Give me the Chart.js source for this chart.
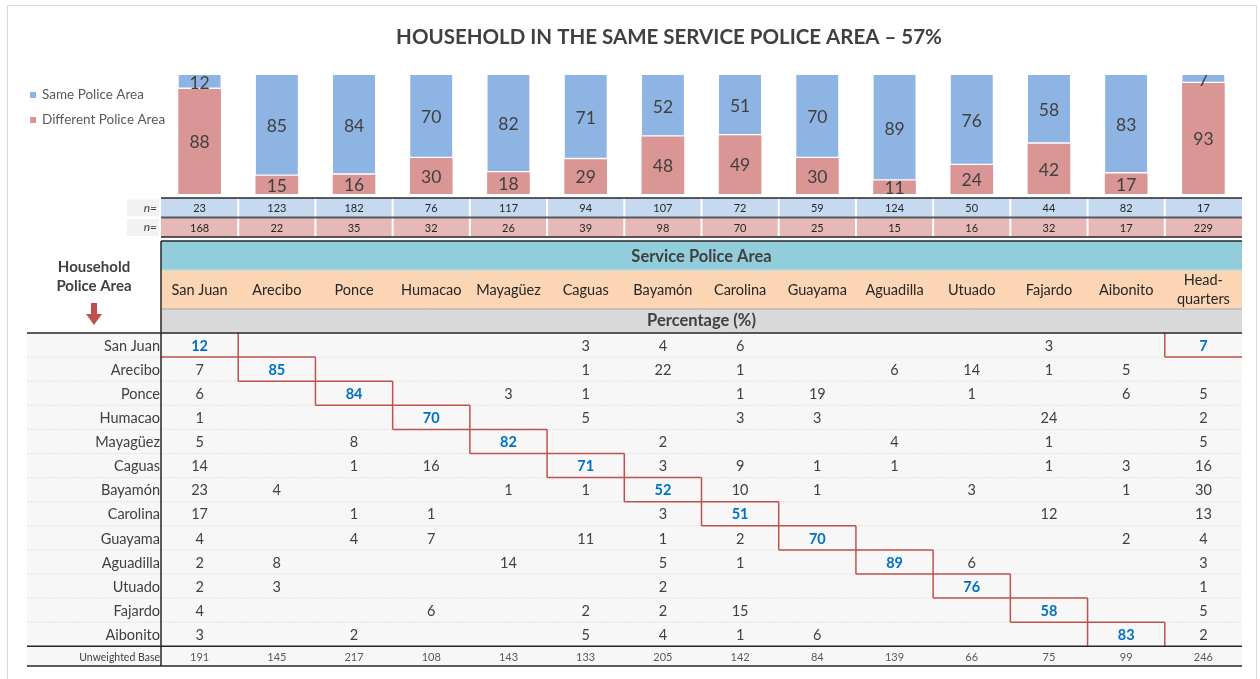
<!DOCTYPE html>
<html><head><meta charset="utf-8">
<script src="https://cdn.jsdelivr.net/npm/chart.js@4.4.0/dist/chart.umd.min.js"></script>
<style>html,body{margin:0;padding:0;background:#fff;}#wrap{position:relative;width:1260px;height:679px;}</style>
</head><body><div id="wrap"><canvas id="c"></canvas></div>
<script>
// ---------- DATA ----------
const categories = ['San Juan','Arecibo','Ponce','Humacao','Mayagüez','Caguas','Bayamón','Carolina','Guayama','Aguadilla','Utuado','Fajardo','Aibonito','Headquarters'];
const headerLabels = ['San Juan','Arecibo','Ponce','Humacao','Mayagüez','Caguas','Bayamón','Carolina','Guayama','Aguadilla','Utuado','Fajardo','Aibonito','Head-|quarters'];
const samePct = [12,85,84,70,82,71,52,51,70,89,76,58,83,7];
const diffPct = [88,15,16,30,18,29,48,49,30,11,24,42,17,93];
const nSame = [23,123,182,76,117,94,107,72,59,124,50,44,82,17];
const nDiff = [168,22,35,32,26,39,98,70,25,15,16,32,17,229];
const rowLabels = ['San Juan','Arecibo','Ponce','Humacao','Mayagüez','Caguas','Bayamón','Carolina','Guayama','Aguadilla','Utuado','Fajardo','Aibonito'];
const _ = null;
const rowSanJuan   = [12,_,_,_,_,3,4,6,_,_,_,3,_,7];
const rowArecibo   = [7,85,_,_,_,1,22,1,_,6,14,1,5,_];
const rowPonce     = [6,_,84,_,3,1,_,1,19,_,1,_,6,5];
const rowHumacao   = [1,_,_,70,_,5,_,3,3,_,_,24,_,2];
const rowMayaguez  = [5,_,8,_,82,_,2,_,_,4,_,1,_,5];
const rowCaguas    = [14,_,1,16,_,71,3,9,1,1,_,1,3,16];
const rowBayamon   = [23,4,_,_,1,1,52,10,1,_,3,_,1,30];
const rowCarolina  = [17,_,1,1,_,_,3,51,_,_,_,12,_,13];
const rowGuayama   = [4,_,4,7,_,11,1,2,70,_,_,_,2,4];
const rowAguadilla = [2,8,_,_,14,_,5,1,_,89,6,_,_,3];
const rowUtuado    = [2,3,_,_,_,_,2,_,_,_,76,_,_,1];
const rowFajardo   = [4,_,_,6,_,2,2,15,_,_,_,58,_,5];
const rowAibonito  = [3,_,2,_,_,5,4,1,6,_,_,_,83,2];
const unweightedBase = [191,145,217,108,143,133,205,142,84,139,66,75,99,246];
const matrix = [rowSanJuan,rowArecibo,rowPonce,rowHumacao,rowMayaguez,rowCaguas,rowBayamon,rowCarolina,rowGuayama,rowAguadilla,rowUtuado,rowFajardo,rowAibonito];

const FONT = 'Lato, "Open Sans", sans-serif';
const C_BLUE = '#8EB4E3', C_PINK = '#D99694';

// ---------- LAYOUT (vertical bands) ----------
const L = {nTop:198, nMid:217.5, nBot:237, tealTop:241, orangeTop:270, grayTop:309, rowsTop:333, rowH:24.1, baseBot:666, tableLeft:27};

function txt(ctx, s, x, y, font, color, align){
  ctx.font = font; ctx.fillStyle = color; ctx.textAlign = align||'center'; ctx.textBaseline = 'middle';
  ctx.fillText(s, x, y);
}
function hline(ctx, x1, x2, y, color, w){ctx.beginPath();ctx.strokeStyle=color;ctx.lineWidth=w;ctx.moveTo(x1,y);ctx.lineTo(x2,y);ctx.stroke();}
function vline(ctx, x, y1, y2, color, w){ctx.beginPath();ctx.strokeStyle=color;ctx.lineWidth=w;ctx.moveTo(x,y1);ctx.lineTo(x,y2);ctx.stroke();}

const decorPlugin = {
  id:'decor',
  beforeDraw(chart){
    const ctx = chart.ctx;
    ctx.save();
    ctx.strokeStyle = '#D9D9D9'; ctx.lineWidth = 1;
    ctx.strokeRect(7.5, 5.5, 1249, 700);
    // title
    txt(ctx, 'HOUSEHOLD IN THE SAME SERVICE POLICE AREA \u2013 57%', 669, 37, 'bold 20.5px '+FONT, '#404040');
    // legend
    const items = [[chart.data.datasets[1].label, C_BLUE, 95],[chart.data.datasets[0].label, C_PINK, 120]];
    items.forEach(([lab,col,y])=>{
      ctx.fillStyle = col; ctx.fillRect(30, y-3, 6, 6);
      txt(ctx, lab, 42, y, '13.5px '+FONT, '#595959', 'left');
    });
    ctx.restore();
  },
  afterDatasetsDraw(chart){
    const ctx = chart.ctx, ca = chart.chartArea;
    ctx.save();
    ctx.beginPath(); ctx.rect(ca.left, ca.top, ca.right-ca.left, ca.bottom-ca.top); ctx.clip();
    chart.data.datasets.forEach((ds, di)=>{
      const meta = chart.getDatasetMeta(di);
      meta.data.forEach((el, i)=>{
        const v = ds.data[i];
        const y = (el.y + el.base)/2;
        txt(ctx, String(v), el.x, y+1, '17.5px '+FONT, '#404040');
      });
    });
    ctx.restore();
  },
  afterDraw(chart){
    const ctx = chart.ctx, ca = chart.chartArea, xs = chart.scales.x;
    const N = categories.length;
    const cx = i => xs.getPixelForValue(i);
    const edge = k => k<=0 ? ca.left : (k>=N ? ca.right : (cx(k-1)+cx(k))/2);
    const rowY = r => L.rowsTop + r*L.rowH;
    const nRows = rowLabels.length;
    const dataBot = rowY(nRows);
    ctx.save();
    // ---- n= rows ----
    ctx.fillStyle = '#F2F2F2';
    ctx.fillRect(127, L.nTop+1.5, 32, L.nMid-L.nTop-2.5);
    ctx.fillRect(127, L.nMid+1.5, 32, L.nBot-L.nMid-2.5);
    ctx.fillStyle = '#C5D9F1'; ctx.fillRect(ca.left, L.nTop, ca.right-ca.left, L.nMid-L.nTop);
    ctx.fillStyle = '#E6B8B7'; ctx.fillRect(ca.left, L.nMid, ca.right-ca.left, L.nBot-L.nMid);
    for(let k=1;k<N;k++) vline(ctx, edge(k), L.nTop, L.nBot, '#FFFFFF', 2);
    hline(ctx, ca.left, ca.right, L.nTop, '#262626', 1.5);
    hline(ctx, ca.left, ca.right, L.nMid, '#595959', 2);
    hline(ctx, ca.left, ca.right, L.nBot, '#262626', 1.5);
    txt(ctx, 'n=', 157, (L.nTop+L.nMid)/2, 'italic 12px '+FONT, '#404040', 'right');
    txt(ctx, 'n=', 157, (L.nMid+L.nBot)/2, 'italic 12px '+FONT, '#404040', 'right');
    for(let i=0;i<N;i++){
      txt(ctx, String(nSame[i]), cx(i), (L.nTop+L.nMid)/2+1, '11px '+FONT, '#262626');
      txt(ctx, String(nDiff[i]), cx(i), (L.nMid+L.nBot)/2+1, '11px '+FONT, '#262626');
    }
    // ---- header bands ----
    ctx.fillStyle = '#92CDDC'; ctx.fillRect(ca.left, L.tealTop, ca.right-ca.left, L.orangeTop-L.tealTop);
    ctx.fillStyle = '#FCD5B4'; ctx.fillRect(ca.left, L.orangeTop, ca.right-ca.left, L.grayTop-L.orangeTop);
    ctx.fillStyle = '#D9D9D9'; ctx.fillRect(ca.left, L.grayTop, ca.right-ca.left, L.rowsTop-L.grayTop);
    hline(ctx, ca.left, ca.right, L.orangeTop, '#B7DEE8', 1);
    hline(ctx, ca.left, ca.right, L.grayTop, '#A6A6A6', 1);
    hline(ctx, ca.left, ca.right, L.tealTop, '#262626', 1.5);
    const midX = (ca.left+ca.right)/2;
    txt(ctx, 'Service Police Area', midX, (L.tealTop+L.orangeTop)/2+1, 'bold 16.5px '+FONT, '#404040');
    txt(ctx, 'Percentage (%)', midX, (L.grayTop+L.rowsTop)/2, 'bold 16.5px '+FONT, '#404040');
    headerLabels.forEach((h,i)=>{
      const parts = h.split('|');
      const yc = (L.orangeTop+L.grayTop)/2;
      if(parts.length===1) txt(ctx, h, cx(i), yc+1, '14.5px '+FONT, '#262626');
      else { txt(ctx, parts[0], cx(i), yc-9, '14.5px '+FONT, '#262626'); txt(ctx, parts[1], cx(i), yc+10, '14.5px '+FONT, '#262626'); }
    });
    // left header
    txt(ctx, 'Household', 94, 267, 'bold 15px '+FONT, '#404040');
    txt(ctx, 'Police Area', 94, 286, 'bold 15px '+FONT, '#404040');
    ctx.fillStyle = '#C0504D';
    ctx.fillRect(91, 303, 6, 12);
    ctx.beginPath(); ctx.moveTo(86, 314); ctx.lineTo(102, 314); ctx.lineTo(94, 325); ctx.closePath(); ctx.fill();
    // ---- body ----
    ctx.fillStyle = '#F7F7F7';
    ctx.fillRect(L.tableLeft, L.rowsTop, ca.right-L.tableLeft, L.baseBot-L.rowsTop);
    ctx.setLineDash([2,1]);
    for(let r=1;r<nRows;r++) hline(ctx, L.tableLeft, ca.right, rowY(r), '#E3E3E3', 1);
    ctx.setLineDash([]);
    // red staircase
    for(let k=1;k<=nRows;k++){
      vline(ctx, edge(k), rowY(k-1), rowY(Math.min(k+1,nRows)), '#C0504D', 1.5);
      if(k<nRows) hline(ctx, edge(k-1), edge(k+1), rowY(k), '#C0504D', 1.5);
    }
    // headquarters box for San Juan row
    vline(ctx, edge(N-1), rowY(0), rowY(1), '#C0504D', 1.5);
    hline(ctx, edge(N-1), edge(N), rowY(1), '#C0504D', 1.5);
    // row labels + values
    for(let r=0;r<nRows;r++){
      const yc = rowY(r)+L.rowH/2+1;
      txt(ctx, rowLabels[r], 160, yc, '14.5px '+FONT, '#404040', 'right');
      matrix[r].forEach((v,c)=>{
        if(v===null) return;
        const diag = (c===r) || (r===0 && c===N-1);
        txt(ctx, String(v), cx(c), yc, (diag?'bold ':'')+'14.5px '+FONT, diag?'#0070C0':'#404040');
      });
    }
    // base row
    const by = (dataBot+L.baseBot)/2+1;
    txt(ctx, 'Unweighted Base', 160, by, '10.5px '+FONT, '#404040', 'right');
    unweightedBase.forEach((v,i)=>txt(ctx, String(v), cx(i), by, '11px '+FONT, '#595959'));
    // black rules
    hline(ctx, L.tableLeft, ca.right, L.rowsTop, '#262626', 1.5);
    hline(ctx, L.tableLeft, ca.right, dataBot, '#262626', 1.5);
    hline(ctx, L.tableLeft, ca.right, L.baseBot, '#262626', 1.5);
    vline(ctx, ca.left, L.tealTop, L.baseBot, '#262626', 1.5);
    ctx.restore();
  }
};

new Chart(document.getElementById('c'), {
  type:'bar',
  data:{
    labels: categories,
    datasets:[
      {label:'Different Police Area', data: diffPct, backgroundColor: C_PINK, borderWidth:0, barThickness:42},
      {label:'Same Police Area', data: samePct, backgroundColor: C_BLUE, borderColor:'#FFFFFF', borderSkipped:false,
       borderWidth:{top:0,left:0,right:0,bottom:2}, barThickness:42}
    ]
  },
  options:{
    responsive:true, maintainAspectRatio:false, animation:false, devicePixelRatio:1,
    layout:{padding:{left:161, right:18, top:75, bottom:485}},
    plugins:{legend:{display:false}, title:{display:false}, tooltip:{enabled:false}},
    scales:{
      x:{stacked:true, display:false, offset:true},
      y:{stacked:true, display:false, min:0, max:100}
    }
  },
  plugins:[decorPlugin]
});
</script></body></html>
